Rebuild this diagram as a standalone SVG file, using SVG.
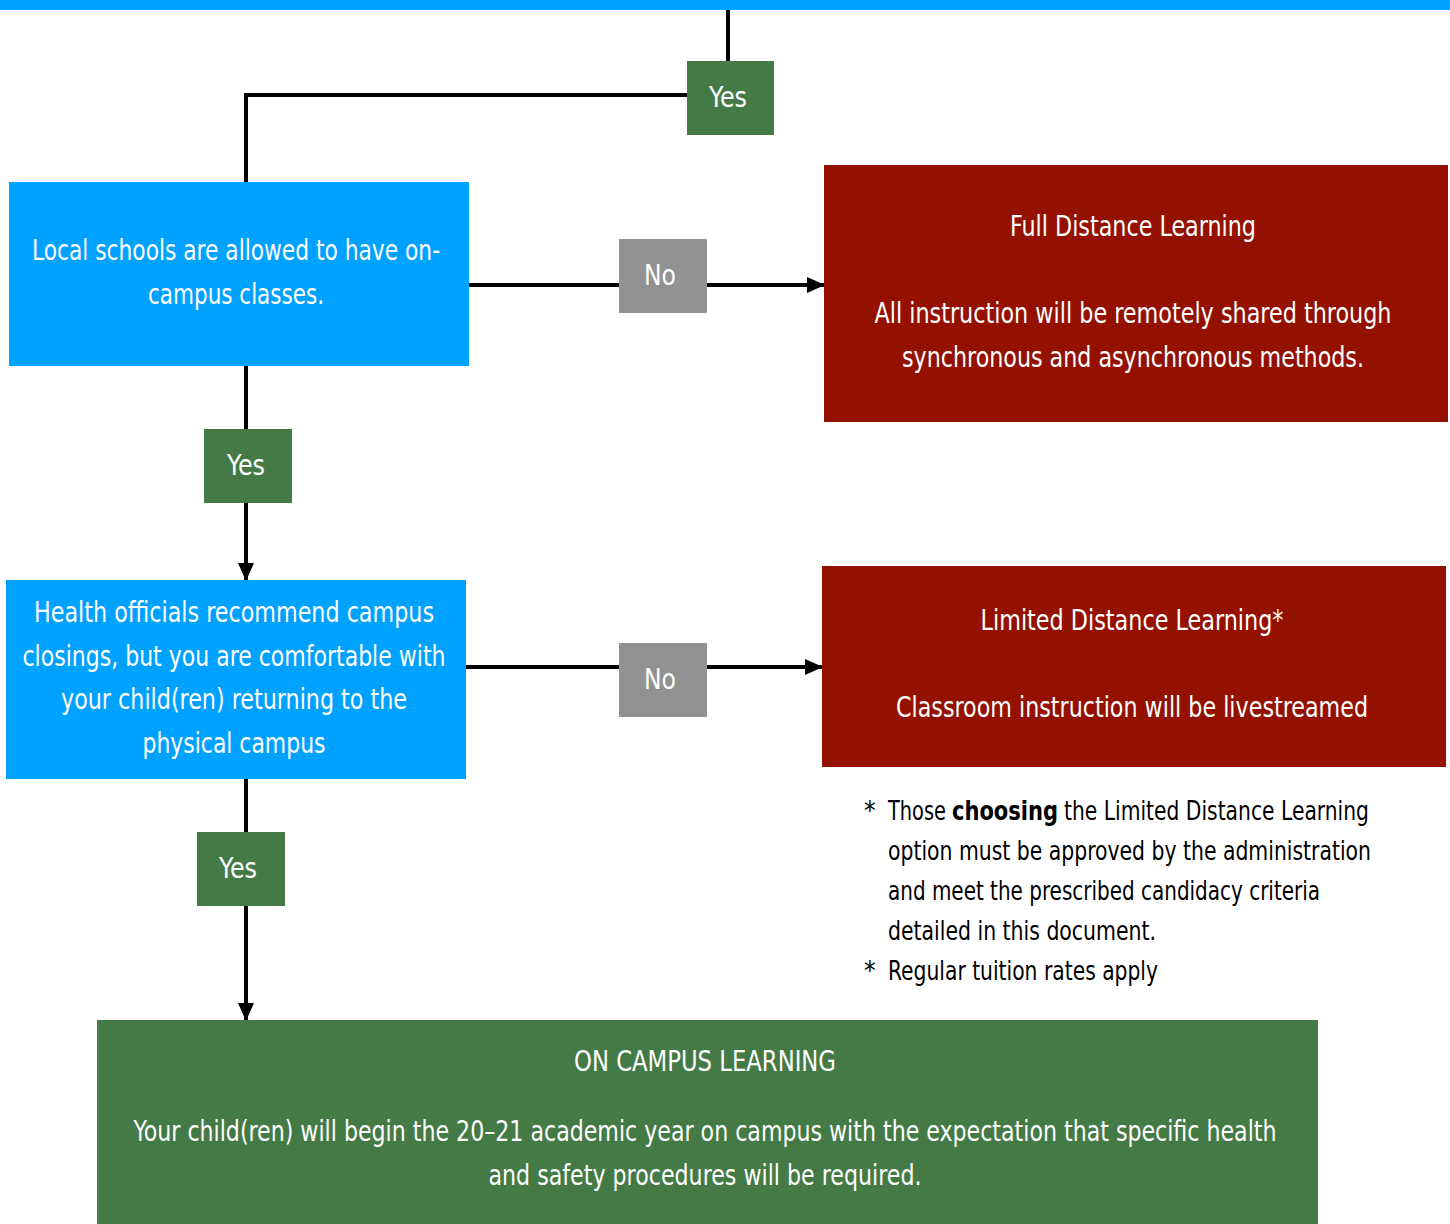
<svg xmlns="http://www.w3.org/2000/svg" width="1450" height="1224" viewBox="0 0 1450 1224">
<style>
text{font-family:"DejaVu Sans Condensed","DejaVu Sans","Liberation Sans",sans-serif;font-stretch:condensed;fill:#fff;font-size:28px}
.c{text-anchor:middle}
.blue{fill:#00A2FF}
.red{fill:#941100}
.green{fill:#447A45}
.gray{fill:#929292}
.ln{stroke:#000;stroke-width:4;fill:none}
.fn{fill:#000;font-size:26px}
</style>
<defs>
<marker id="ah" markerWidth="18" markerHeight="16" refX="17" refY="8" orient="auto" markerUnits="userSpaceOnUse">
<path d="M0,0 L18,8 L0,16 Z" fill="#000"/>
</marker>
</defs>
<rect x="0" y="0" width="1450" height="10" class="blue"/>
<g id="connectors">
<path class="ln" d="M728,10 V61"/>
<path class="ln" d="M687,95 H246 V182"/>
<path class="ln" d="M469,285 H619"/>
<path class="ln" d="M707,285 H824" marker-end="url(#ah)"/>
<path class="ln" d="M246,366 V429"/>
<path class="ln" d="M246,503 V580" marker-end="url(#ah)"/>
<path class="ln" d="M466,667 H619"/>
<path class="ln" d="M707,667 H822" marker-end="url(#ah)"/>
<path class="ln" d="M246,779 V832"/>
<path class="ln" d="M246,906 V1020" marker-end="url(#ah)"/>
</g>
<g id="yes1"><rect x="687" y="61" width="87" height="74" class="green"/><text x="728" y="107" class="c" textLength="38" lengthAdjust="spacingAndGlyphs">Yes</text></g>
<g id="q1"><rect x="9" y="182" width="460" height="184" class="blue"/>
<text x="236" y="260" class="c" font-size="29" textLength="408" lengthAdjust="spacingAndGlyphs">Local schools are allowed to have on-</text>
<text x="236" y="304" class="c" font-size="29" textLength="176" lengthAdjust="spacingAndGlyphs">campus classes.</text></g>
<g id="no1"><rect x="619" y="239" width="88" height="74" class="gray"/><text x="660" y="285" class="c" textLength="32" lengthAdjust="spacingAndGlyphs">No</text></g>
<g id="full"><rect x="824" y="165" width="624" height="257" class="red"/>
<text x="1133" y="236" class="c" font-size="29" textLength="246" lengthAdjust="spacingAndGlyphs">Full Distance Learning</text>
<text x="1133" y="323" class="c" font-size="28" textLength="517" lengthAdjust="spacingAndGlyphs">All instruction will be remotely shared through</text>
<text x="1133" y="367" class="c" font-size="29" textLength="462" lengthAdjust="spacingAndGlyphs">synchronous and asynchronous methods.</text></g>
<g id="yes2"><rect x="204" y="429" width="88" height="74" class="green"/><text x="246" y="475" class="c" textLength="38" lengthAdjust="spacingAndGlyphs">Yes</text></g>
<g id="q2"><rect x="6" y="580" width="460" height="199" class="blue"/>
<text x="234" y="622" class="c" font-size="29" textLength="400" lengthAdjust="spacingAndGlyphs">Health officials recommend campus</text>
<text x="234" y="666" class="c" font-size="29" textLength="423" lengthAdjust="spacingAndGlyphs">closings, but you are comfortable with</text>
<text x="234" y="709" class="c" font-size="29" textLength="346" lengthAdjust="spacingAndGlyphs">your child(ren) returning to the</text>
<text x="234" y="753" class="c" font-size="29" textLength="183" lengthAdjust="spacingAndGlyphs">physical campus</text></g>
<g id="no2"><rect x="619" y="643" width="88" height="74" class="gray"/><text x="660" y="689" class="c" textLength="32" lengthAdjust="spacingAndGlyphs">No</text></g>
<g id="limited"><rect x="822" y="566" width="624" height="201" class="red"/>
<text x="1132" y="630" class="c" font-size="29" textLength="303" lengthAdjust="spacingAndGlyphs">Limited Distance Learning*</text>
<text x="1132" y="717" class="c" font-size="29" textLength="472" lengthAdjust="spacingAndGlyphs">Classroom instruction will be livestreamed</text></g>
<g id="footnote">
<text x="864" y="820" class="fn">*</text>
<text x="888" y="820" class="fn" textLength="58" lengthAdjust="spacingAndGlyphs">Those</text>
<text x="952" y="820" class="fn" font-weight="bold" textLength="106" lengthAdjust="spacingAndGlyphs">choosing</text>
<text x="1064" y="820" class="fn" textLength="305" lengthAdjust="spacingAndGlyphs">the Limited Distance Learning</text>
<text x="888" y="860" class="fn" textLength="483" lengthAdjust="spacingAndGlyphs">option must be approved by the administration</text>
<text x="888" y="900" class="fn" textLength="432" lengthAdjust="spacingAndGlyphs">and meet the prescribed candidacy criteria</text>
<text x="888" y="940" class="fn" textLength="268" lengthAdjust="spacingAndGlyphs">detailed in this document.</text>
<text x="864" y="980" class="fn">*</text>
<text x="888" y="980" class="fn" textLength="270" lengthAdjust="spacingAndGlyphs">Regular tuition rates apply</text>
</g>
<g id="yes3"><rect x="197" y="832" width="88" height="74" class="green"/><text x="238" y="878" class="c" textLength="38" lengthAdjust="spacingAndGlyphs">Yes</text></g>
<g id="oncampus"><rect x="97" y="1020" width="1221" height="204" class="green"/>
<text x="705" y="1071" class="c" font-size="29" textLength="262" lengthAdjust="spacingAndGlyphs">ON CAMPUS LEARNING</text>
<text x="705" y="1141" class="c" font-size="29" textLength="1143" lengthAdjust="spacingAndGlyphs">Your child(ren) will begin the 20–21 academic year on campus with the expectation that specific health</text>
<text x="705" y="1185" class="c" font-size="29" textLength="433" lengthAdjust="spacingAndGlyphs">and safety procedures will be required.</text></g>
</svg>
